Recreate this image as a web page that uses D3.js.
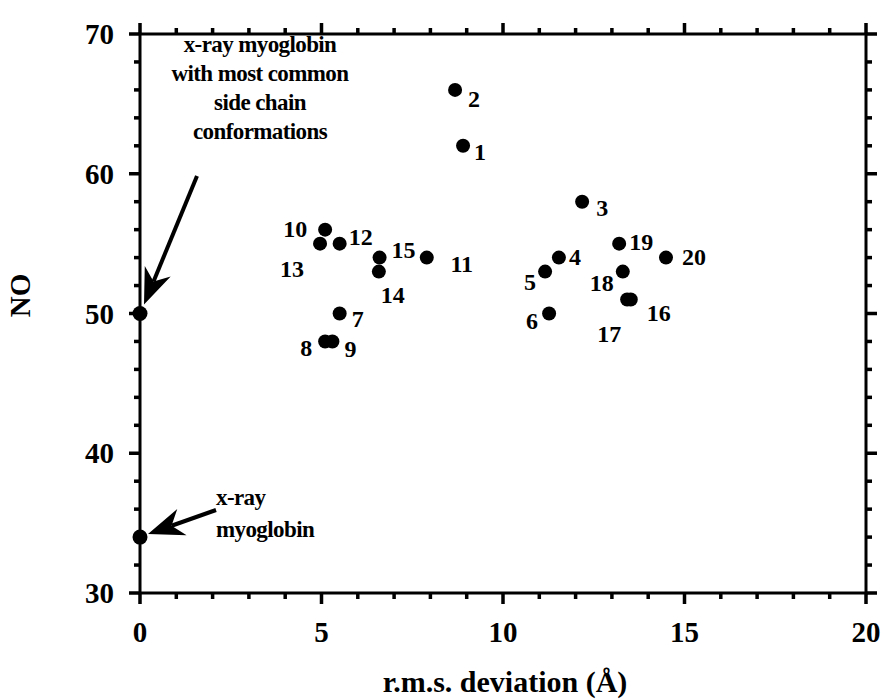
<!DOCTYPE html>
<html>
<head>
<meta charset="utf-8">
<script src="https://cdn.jsdelivr.net/npm/d3@7"></script>
<style>
  html, body { margin: 0; padding: 0; background: #fff; }
  svg { display: block; }
  text { font-family: "Liberation Serif", "DejaVu Serif", serif; font-weight: bold; fill: #000; }
</style>
</head>
<body>
<svg id="chart" width="884" height="700"></svg>
<script>
// Model ids with their r.m.s. deviation (Å) and NO values
const modelIds = [1, 2, 3, 4, 5, 6, 7, 8, 9, 10, 11, 12, 13, 14, 15, 16, 17, 18, 19, 20];
const rmsDeviation = [8.9, 8.68, 12.18, 11.54, 11.16, 11.27, 5.5, 5.1, 5.3, 5.1, 7.9, 5.5, 4.96, 6.58, 6.6, 13.52, 13.42, 13.3, 13.2, 14.49];
const noValues = [62, 66, 58, 54, 53, 50, 50, 48, 48, 56, 54, 55, 55, 53, 54, 51, 51, 53, 55, 54];

// Reference structures on the y axis
const refNames = ["conformations", "x-ray"];
const refRms = [0, 0];
const refNo = [50, 34];

// Axis ticks
const xTicks = [0, 5, 10, 15, 20];
const yTicks = [30, 40, 50, 60, 70];
const xTitle = "r.m.s. deviation (Å)";
const yTitle = "NO";

// Label placement around each dot (pixels)
const labelOffset = {
  1: [17, 6], 2: [19, 9], 3: [20, 6], 4: [16, -1], 5: [-15, 10],
  6: [-17, 7], 7: [18, 5], 8: [-19, 7], 9: [18, 8], 10: [-30, -1],
  11: [35, 6], 12: [21, -7], 13: [-28, 25], 14: [14, 23], 15: [24, -8],
  16: [28, 13], 17: [-18, 34], 18: [-21, 11], 19: [22, -2], 20: [28, -1]
};

const svg = d3.select("#chart");
const m = { left: 140, right: 866, top: 34, bottom: 593 };

const x = d3.scaleLinear().domain([0, 20]).range([m.left, m.right]);
const y = d3.scaleLinear().domain([30, 70]).range([m.bottom, m.top]);

const xMinor = d3.range(0, 21, 1).filter(v => v % 5 !== 0);
const yMinor = d3.range(30, 71, 2).filter(v => v % 10 !== 0);

// Frame
svg.append("rect")
  .attr("x", m.left).attr("y", m.top)
  .attr("width", m.right - m.left).attr("height", m.bottom - m.top)
  .attr("fill", "none").attr("stroke", "#000").attr("stroke-width", 3);

// Outward ticks on all four sides, drawn as small filled bars
function tickBars(values, len, w) {
  const g = svg.append("g").attr("fill", "#000");
  values.x.forEach(v => {
    g.append("rect").attr("x", x(v) - w / 2).attr("y", m.bottom).attr("width", w).attr("height", len);
    g.append("rect").attr("x", x(v) - w / 2).attr("y", m.top - len).attr("width", w).attr("height", len);
  });
  values.y.forEach(v => {
    g.append("rect").attr("x", m.left - len).attr("y", y(v) - w / 2).attr("width", len).attr("height", w);
    g.append("rect").attr("x", m.right).attr("y", y(v) - w / 2).attr("width", len).attr("height", w);
  });
}
tickBars({ x: xMinor, y: yMinor }, 6, 3.5);
tickBars({ x: xTicks, y: yTicks }, 11, 3.5);

// Tick labels
svg.append("g").selectAll("text").data(xTicks).join("text")
  .attr("x", d => x(d)).attr("y", m.bottom + 49)
  .attr("text-anchor", "middle").attr("font-size", 29)
  .text(d => d);
svg.append("g").selectAll("text").data(yTicks).join("text")
  .attr("x", m.left - 26).attr("y", d => y(d) + 10)
  .attr("text-anchor", "end").attr("font-size", 29)
  .text(d => d);

// Axis titles
svg.append("text")
  .attr("x", (m.left + m.right) / 2 + 2).attr("y", 692)
  .attr("text-anchor", "middle").attr("font-size", 30)
  .text(xTitle);
svg.append("text")
  .attr("transform", `translate(30, ${(m.top + m.bottom) / 2 - 18}) rotate(-90)`)
  .attr("text-anchor", "middle").attr("font-size", 29)
  .text(yTitle);

// Model points
const pts = modelIds.map((id, i) => ({ id, rms: rmsDeviation[i], no: noValues[i] }));
svg.append("g").selectAll("circle").data(pts).join("circle")
  .attr("cx", d => x(d.rms)).attr("cy", d => y(d.no)).attr("r", 7).attr("fill", "#000");
svg.append("g").selectAll("text").data(pts).join("text")
  .attr("x", d => x(d.rms) + labelOffset[d.id][0])
  .attr("y", d => y(d.no) + labelOffset[d.id][1])
  .attr("text-anchor", "middle").attr("dominant-baseline", "central")
  .attr("font-size", 24)
  .text(d => d.id);

// Reference points on the axis
svg.append("g").selectAll("circle").data(refNo).join("circle")
  .attr("cx", (d, i) => x(refRms[i])).attr("cy", d => y(d)).attr("r", 7.5).attr("fill", "#000");

// Annotations with arrows
function arrow(x1, y1, x2, y2) {
  const ang = Math.atan2(y2 - y1, x2 - x1);
  const len = 36, half = 14, notch = 25;
  const ux = Math.cos(ang), uy = Math.sin(ang);
  const px = -uy, py = ux;
  const bx = x2 - ux * len, by = y2 - uy * len;
  const nx = x2 - ux * notch, ny = y2 - uy * notch;
  svg.append("line").attr("x1", x1).attr("y1", y1).attr("x2", nx).attr("y2", ny)
    .attr("stroke", "#000").attr("stroke-width", 4);
  svg.append("path")
    .attr("d", `M${x2},${y2} L${bx + px * half},${by + py * half} L${nx},${ny} L${bx - px * half},${by - py * half} Z`)
    .attr("fill", "#000");
}

arrow(197, 176, x(refRms[0]) + 4, y(refNo[0]) - 9);
arrow(216, 510, x(refRms[1]) + 8, y(refNo[1]) - 3);

const note1 = ["x-ray myoglobin", "with most common", "side chain", "conformations"];
svg.append("g").selectAll("text").data(note1).join("text")
  .attr("x", 260).attr("y", (d, i) => 52 + i * 29)
  .attr("text-anchor", "middle").attr("font-size", 23)
  .attr("letter-spacing", -0.6)
  .text(d => d);

const note2 = ["x-ray", "myoglobin"];
svg.append("g").selectAll("text").data(note2).join("text")
  .attr("x", 216).attr("y", (d, i) => 505 + i * 32)
  .attr("text-anchor", "start").attr("font-size", 23)
  .attr("letter-spacing", -0.6)
  .text(d => d);
</script>
</body>
</html>
